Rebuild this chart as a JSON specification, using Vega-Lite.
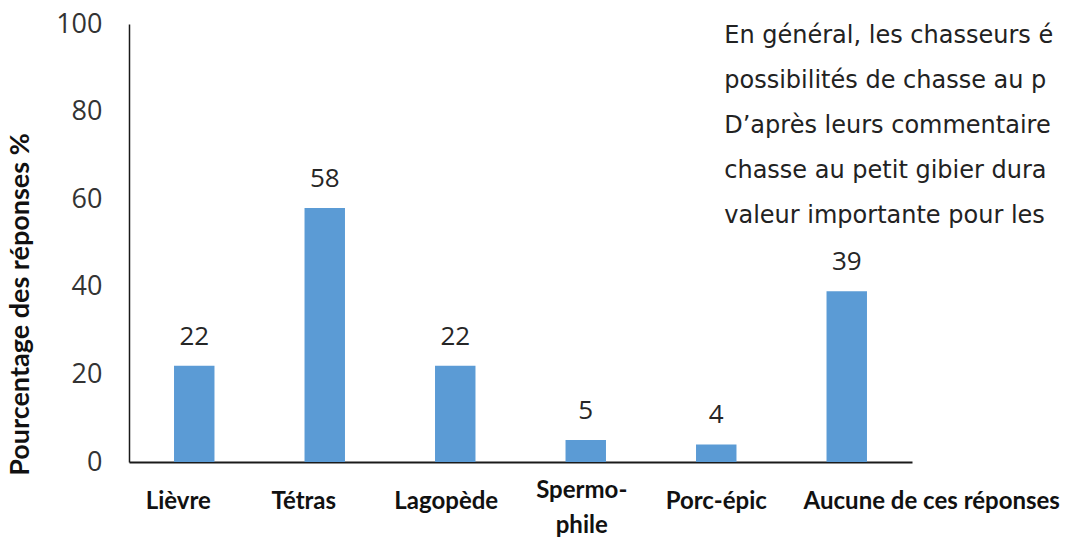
{
  "$schema": "https://vega.github.io/schema/vega-lite/v6.json",
  "width": 783,
  "height": 438,
  "autosize": {"type": "none"},
  "padding": {"left": 129, "top": 24, "right": 156, "bottom": 75},
  "background": "white",
  "config": {"view": {"stroke": null}},
  "layer": [
    {
      "data": {"values": [
        {"espece": "Lièvre", "pct": 22},
        {"espece": "Tétras", "pct": 58},
        {"espece": "Lagopède", "pct": 22},
        {"espece": "Spermophile", "pct": 5},
        {"espece": "Porc-épic", "pct": 4},
        {"espece": "Aucune de ces réponses", "pct": 39}
      ]},
      "layer": [
        {
          "mark": {"type": "bar", "color": "#5B9BD5"},
          "encoding": {
            "x": {
              "field": "espece", "type": "nominal", "sort": null,
              "scale": {"paddingInner": 0.69, "paddingOuter": 0.345},
              "axis": {
                "title": null,
                "labelAngle": 0,
                "labelExpr": "datum.label == 'Spermophile' ? ['Spermo-', 'phile'] : datum.label",
                "labelFont": "Lato",
                "labelFontWeight": "bold",
                "labelFontSize": 24,
                "labelColor": "#111111",
                "labelBaseline": "middle",
                "labelLineHeight": 35,
                "labelPadding": {
                  "condition": {"test": "datum.value == 'Spermophile'", "value": 28},
                  "value": 39
                },
                "labelOverlap": false,
                "labelLimit": 400,
                "labelOffset": {
                  "condition": [
                    {"test": "datum.value == 'Lièvre'", "value": -16},
                    {"test": "datum.value == 'Tétras'", "value": -21},
                    {"test": "datum.value == 'Lagopède'", "value": -9},
                    {"test": "datum.value == 'Spermophile'", "value": -4},
                    {"test": "datum.value == 'Aucune de ces réponses'", "value": 85}
                  ],
                  "value": 0
                },
                "ticks": false,
                "domainColor": "#1a1a1a",
                "domainWidth": 2
              }
            },
            "y": {
              "field": "pct", "type": "quantitative",
              "scale": {"domain": [0, 100]},
              "axis": {
                "values": [0, 20, 40, 60, 80, 100],
                "title": "Pourcentage des réponses %",
                "titleFont": "Lato",
                "titleFontWeight": "bold",
                "titleFontSize": 27,
                "titleColor": "#111111",
                "titleAngle": -90,
                "titleX": -109,
                "titleY": 280,
                "titleAlign": "center",
                "titleBaseline": "middle",
                "labelFont": "Open Sans",
                "labelFontSize": 27,
                "labelColor": "#333333",
                "labelPadding": 27,
                "ticks": false,
                "grid": false,
                "domainColor": "#1a1a1a",
                "domainWidth": 1.5
              }
            }
          }
        },
        {
          "mark": {"type": "text", "font": "Open Sans", "fontSize": 26, "color": "#262626", "baseline": "alphabetic", "dy": -21},
          "encoding": {
            "x": {"field": "espece", "type": "nominal", "sort": null},
            "y": {"field": "pct", "type": "quantitative"},
            "text": {"field": "pct", "type": "quantitative"}
          }
        }
      ]
    },
    {
      "data": {"values": [
        {"espece": "Porc-épic", "pct": 100, "texte": ["En général, les chasseurs é", "possibilités de chasse au p", "D’après leurs commentaire", "chasse au petit gibier dura", "valeur importante pour les"]}
      ]},
      "mark": {"type": "text", "font": "DejaVu Sans", "fontSize": 24, "color": "#222222", "align": "left", "baseline": "alphabetic", "lineHeight": 45, "dx": 8, "dy": 18.5},
      "encoding": {
        "x": {"field": "espece", "type": "nominal", "sort": null},
        "y": {"field": "pct", "type": "quantitative"},
        "text": {"field": "texte"}
      }
    }
  ]
}
